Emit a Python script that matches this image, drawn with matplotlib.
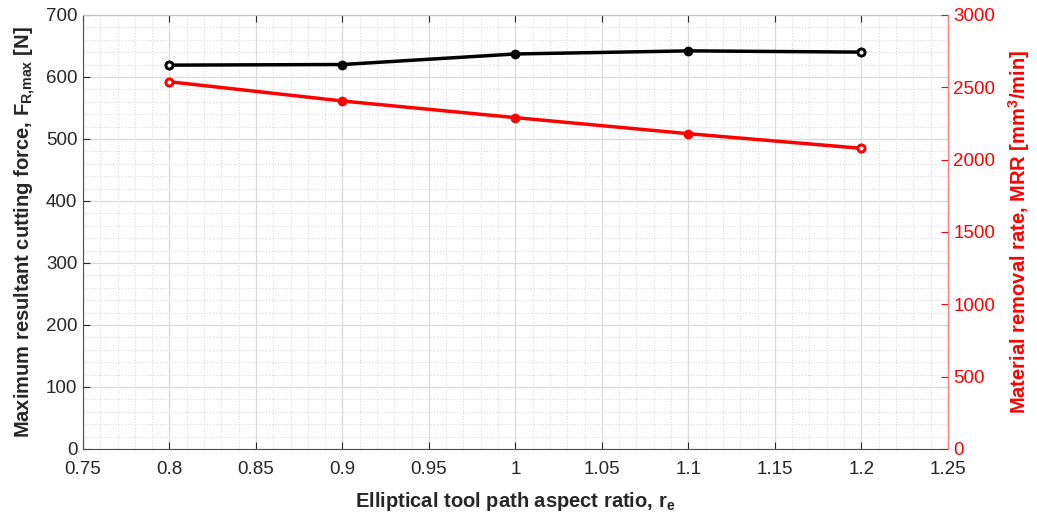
import numpy as np
import matplotlib.pyplot as plt
from matplotlib.ticker import MultipleLocator

plt.rcParams['font.sans-serif'] = ['Liberation Sans', 'DejaVu Sans']
plt.rcParams['font.family'] = ['Liberation Sans', 'DejaVu Sans']
plt.rcParams['mathtext.fontset'] = 'custom'
plt.rcParams['mathtext.rm'] = 'sans:bold'
plt.rcParams['mathtext.bf'] = 'sans:bold'
plt.rcParams['mathtext.default'] = 'bf'

# aspect ratio r_e
r_e = [0.8, 0.9, 1.0, 1.1, 1.2]
# max resultant cutting force [N]
force = [619, 620, 637, 642, 640]
# material removal rate [mm^3/min]
mrr = [2538, 2405, 2290, 2179, 2078]

fig = plt.figure(figsize=(10.37, 5.14), dpi=100)
ax = fig.add_axes([0.080, 0.1265, 0.834, 0.8445])
ax2 = ax.twinx()

ax.set_xlim(0.75, 1.25)
ax.set_ylim(0, 700)
ax2.set_ylim(0, 3000)
ax.xaxis.set_major_locator(MultipleLocator(0.05))
ax.xaxis.set_minor_locator(MultipleLocator(0.01))
ax.yaxis.set_major_locator(MultipleLocator(100))
ax.yaxis.set_minor_locator(MultipleLocator(20))
ax2.yaxis.set_major_locator(MultipleLocator(500))

ax.grid(True, which='major', color='#d9d9d9', lw=0.9)
ax.grid(True, which='minor', color='#dcdcdc', lw=0.8, ls=':')
ax.set_axisbelow(True)

ax.set_xticks(np.arange(0.75, 1.2501, 0.05))
ax.set_xticklabels(['0.75', '0.8', '0.85', '0.9', '0.95', '1', '1.05', '1.1', '1.15', '1.2', '1.25'])

ax.plot(r_e, force, color='black', lw=2.5, marker='o', ms=6, zorder=3)
ax.plot([r_e[0], r_e[-1]], [force[0], force[-1]], ls='none', marker='o', ms=5,
        mfc='white', mec='black', mew=2, zorder=4)
ax2.plot(r_e, mrr, color='red', lw=2.5, marker='o', ms=6, zorder=3)
ax2.plot([r_e[0], r_e[-1]], [mrr[0], mrr[-1]], ls='none', marker='o', ms=5,
         mfc='white', mec='red', mew=2, zorder=4)

ax.tick_params(which='major', direction='in', length=5, top=True, labelsize=13.5,
               colors='#262626')
ax.tick_params(axis='x', pad=9)
ax.tick_params(axis='y', pad=4)
ax.tick_params(which='minor', length=0)
ax2.tick_params(axis='y', direction='in', length=5, colors='red', labelsize=13.5, pad=4)

for s in ['left', 'bottom']:
    ax.spines[s].set_color('#4d4d4d')
ax.spines['top'].set_color('#bfbfbf')
ax2.spines['top'].set_visible(False)
ax2.spines['left'].set_visible(False)
ax2.spines['bottom'].set_visible(False)
ax2.spines['right'].set_color('#ff8080')

ax.set_xlabel(r'Elliptical tool path aspect ratio, r$_\mathbf{e}$', fontsize=14.5,
              fontweight='bold', color='#262626', labelpad=8)
ax.set_ylabel(r'Maximum resultant cutting force, F$_\mathbf{R{,}max}$ [N]', fontsize=14.5,
              fontweight='bold', color='#262626', labelpad=6)
ax2.set_ylabel(r'Material removal rate, MRR [mm$^\mathbf{3}$/min]', fontsize=14.5,
               fontweight='bold', color='red', labelpad=8)

plt.savefig('out.png', dpi=100)
